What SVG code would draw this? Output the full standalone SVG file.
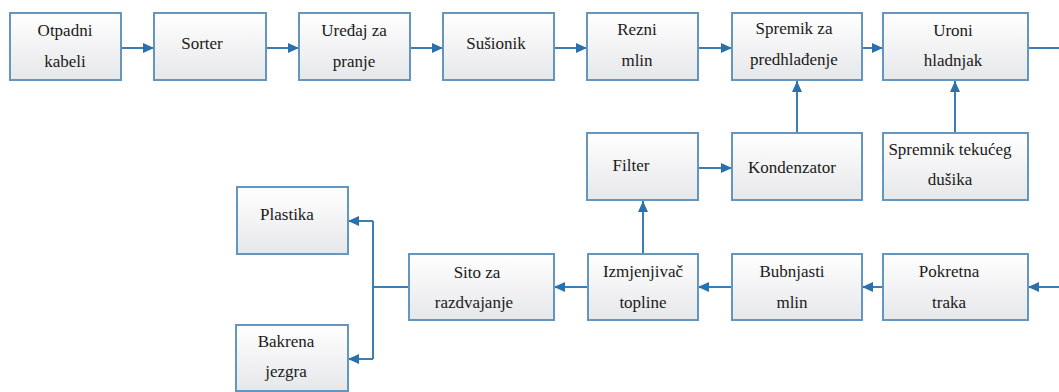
<svg xmlns="http://www.w3.org/2000/svg" width="1059" height="392" viewBox="0 0 1059 392">
<style>
.box{fill:url(#g);stroke:#6497c0;stroke-width:2}
.c{fill:none;stroke:#3d7db4;stroke-width:2}
</style>
<defs>
<linearGradient id="g" x1="0" y1="0" x2="0" y2="1">
<stop offset="0" stop-color="#ffffff"/>
<stop offset="1" stop-color="#e6e7e9"/>
</linearGradient>
<marker id="a" markerUnits="userSpaceOnUse" markerWidth="12" markerHeight="10" refX="11" refY="5" orient="auto">
<path d="M0,0 L11,5 L0,10 Z" fill="#2a70ad"/>
</marker>
</defs>
<rect width="1059" height="392" fill="#ffffff"/>
<g id="connectors">
<line class="c" x1="122" y1="48" x2="154" y2="48" marker-end="url(#a)"/>
<line class="c" x1="266" y1="48" x2="299" y2="48" marker-end="url(#a)"/>
<line class="c" x1="410" y1="48" x2="443" y2="48" marker-end="url(#a)"/>
<line class="c" x1="554" y1="48" x2="587" y2="48" marker-end="url(#a)"/>
<line class="c" x1="698" y1="48" x2="732" y2="48" marker-end="url(#a)"/>
<line class="c" x1="862" y1="48" x2="883" y2="48" marker-end="url(#a)"/>
<line class="c" x1="1028" y1="48" x2="1059" y2="48"/>
<line class="c" x1="797" y1="133" x2="797" y2="81" marker-end="url(#a)"/>
<line class="c" x1="955" y1="133" x2="955" y2="81" marker-end="url(#a)"/>
<line class="c" x1="698" y1="168" x2="732" y2="168" marker-end="url(#a)"/>
<line class="c" x1="643" y1="254" x2="643" y2="201" marker-end="url(#a)"/>
<line class="c" x1="1059" y1="287" x2="1028" y2="287" marker-end="url(#a)"/>
<line class="c" x1="883" y1="287" x2="862" y2="287" marker-end="url(#a)"/>
<line class="c" x1="732" y1="287" x2="698" y2="287" marker-end="url(#a)"/>
<line class="c" x1="588" y1="287" x2="554" y2="287" marker-end="url(#a)"/>
<line class="c" x1="409" y1="287" x2="373" y2="287"/>
<line class="c" x1="373" y1="221" x2="373" y2="359"/>
<line class="c" x1="373" y1="221" x2="348" y2="221" marker-end="url(#a)"/>
<line class="c" x1="373" y1="359" x2="348" y2="359" marker-end="url(#a)"/>
</g>
<g font-family="Liberation Serif, DejaVu Serif, serif" font-size="17" fill="#1a1a1a" text-anchor="middle">
<g id="n1"><rect class="box" x="10" y="13" width="111" height="67"/><text x="65" y="36">Otpadni</text><text x="65" y="67">kabeli</text></g>
<g id="n2"><rect class="box" x="154" y="13" width="112" height="67"/><text x="202" y="49">Sorter</text></g>
<g id="n3"><rect class="box" x="299" y="13" width="111" height="67"/><text x="354" y="36">Uređaj za</text><text x="354" y="67">pranje</text></g>
<g id="n4"><rect class="box" x="443" y="13" width="111" height="67"/><text x="496" y="49">Sušionik</text></g>
<g id="n5"><rect class="box" x="587" y="13" width="111" height="67"/><text x="637" y="35">Rezni</text><text x="637" y="66">mlin</text></g>
<g id="n6"><rect class="box" x="732" y="13" width="130" height="67"/><text x="794" y="34">Spremik za</text><text x="794" y="65">predhlađenje</text></g>
<g id="n7"><rect class="box" x="883" y="13" width="145" height="67"/><text x="953" y="36">Uroni</text><text x="953" y="66">hladnjak</text></g>
<g id="n8"><rect class="box" x="587" y="133" width="111" height="67"/><text x="631" y="171">Filter</text></g>
<g id="n9"><rect class="box" x="732" y="133" width="130" height="67"/><text x="792" y="173">Kondenzator</text></g>
<g id="n10"><rect class="box" x="883" y="133" width="145" height="67"/><text x="950" y="155">Spremnik tekućeg</text><text x="950" y="185">dušika</text></g>
<g id="n11"><rect class="box" x="237" y="187" width="111" height="67"/><text x="287" y="220">Plastika</text></g>
<g id="n12"><rect class="box" x="409" y="254" width="145" height="66"/><text x="477" y="278">Sito za</text><text x="474" y="308">razdvajanje</text></g>
<g id="n13"><rect class="box" x="588" y="254" width="110" height="66"/><text x="643" y="277">Izmjenjivač</text><text x="643" y="308">topline</text></g>
<g id="n14"><rect class="box" x="732" y="254" width="130" height="66"/><text x="792" y="277">Bubnjasti</text><text x="792" y="308">mlin</text></g>
<g id="n15"><rect class="box" x="883" y="254" width="145" height="66"/><text x="949" y="277">Pokretna</text><text x="949" y="308">traka</text></g>
<g id="n16"><rect class="box" x="236" y="325" width="112" height="66"/><text x="286" y="347">Bakrena</text><text x="286" y="377">jezgra</text></g>
</g>
</svg>
